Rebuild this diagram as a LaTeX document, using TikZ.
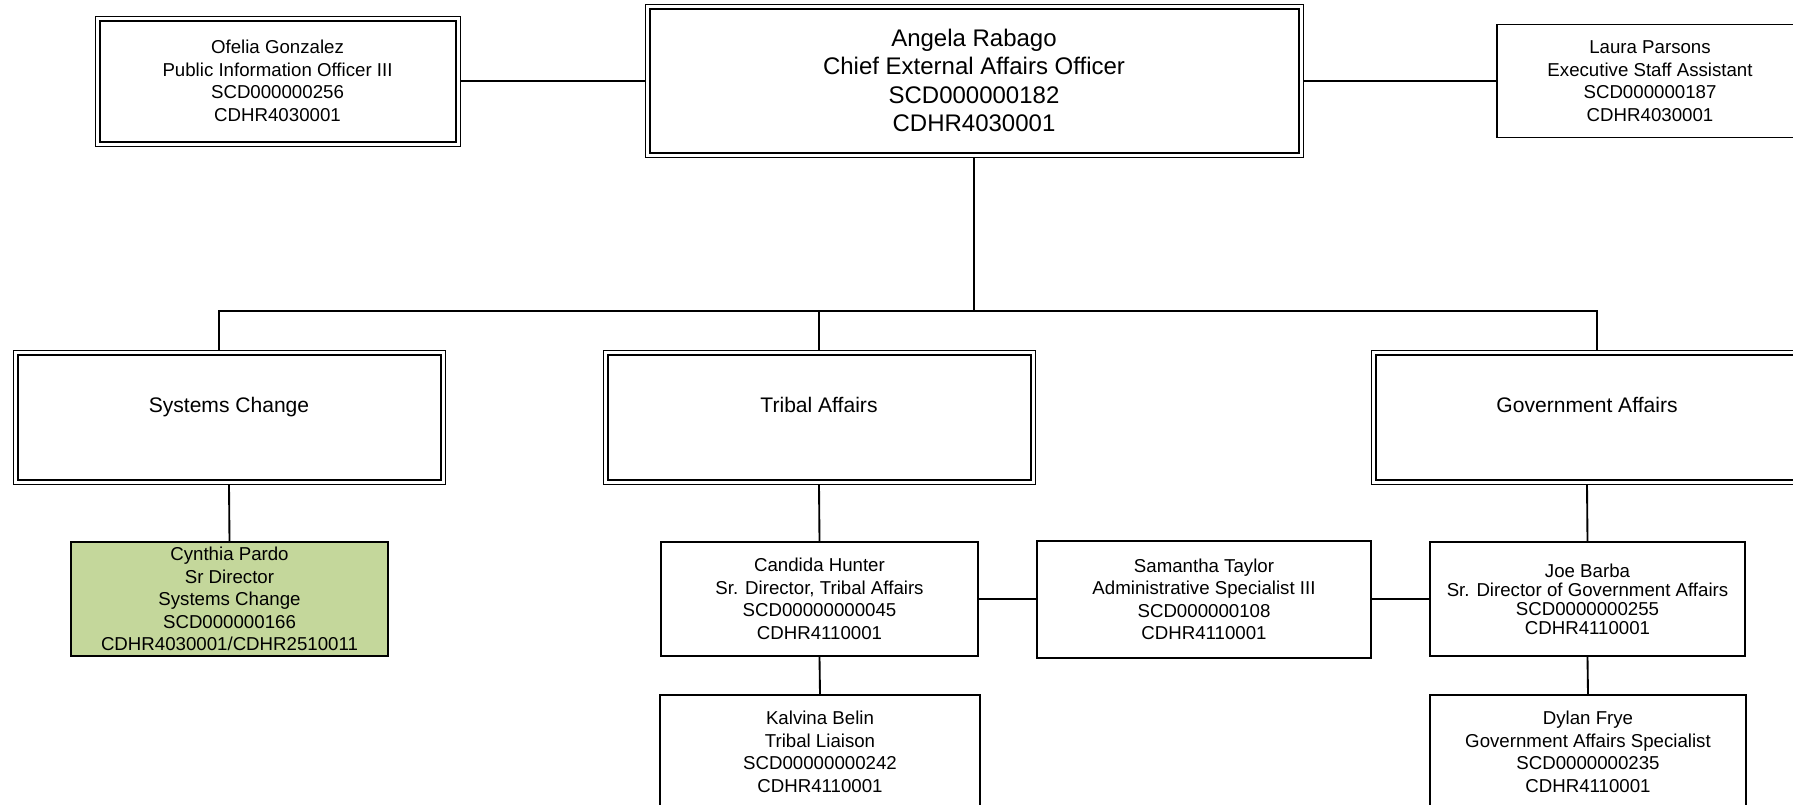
\documentclass[tikz,border=0pt]{standalone}
\usepackage{fontspec}
\setmainfont{Liberation Sans}
\definecolor{olivefill}{RGB}{196,215,155}
\tikzset{
  person/.style={draw, line width=1.4pt, align=center, inner sep=0pt,
    minimum width=237.75pt, minimum height=85.5pt, font=\fontsize{14}{16.9}\selectfont},
  dbox/.style={draw, line width=0.75pt, align=center, inner sep=0pt},
  dept/.style={dbox, minimum width=324pt, minimum height=100.5pt,
    text height=12pt, text depth=18.6pt, font=\fontsize{15.8}{19}\selectfont},
  frame/.style={line width=1.5pt},
  link/.style={line width=1.4pt}
}

\begin{document}
\begin{tikzpicture}[x=0.75pt, y=-0.75pt]
\useasboundingbox (0,0) rectangle (1793,804);

% top row
\node[dbox, minimum width=493.5pt, minimum height=114.75pt,
  font=\fontsize{18}{21.2}\selectfont] (angela) at (974,80.5)
  {Angela Rabago\\Chief External Affairs Officer\\SCD000000182\\CDHR4030001};
\node[dbox, minimum width=273.75pt, minimum height=97.5pt,
  font=\fontsize{14}{16.9}\selectfont] (ofelia) at (277.5,81)
  {Ofelia Gonzalez\\Public Information Officer III\\SCD000000256\\CDHR4030001};
\node[person, minimum width=229.5pt, minimum height=84.75pt] (laura) at (1650,81)
  {Laura Parsons\\Executive Staff Assistant\\SCD000000187\\CDHR4030001};

% units
\node[dept] (sc) at (229,417) {Systems Change};
\node[dept] (tribal) at (819,417) {Tribal Affairs};
\node[dept] (gov) at (1587,417) {Government Affairs};

\foreach \n in {angela,ofelia,sc,tribal,gov}
  \draw[frame] ([shift={(3.75pt,-3.75pt)}]\n.north west)
    rectangle ([shift={(-3.75pt,3.75pt)}]\n.south east);

% staff
\node[person, fill=olivefill] (cynthia) at (229.5,599)
  {Cynthia Pardo\\Sr Director\\Systems Change\\SCD000000166\\CDHR4030001/CDHR2510011};
\node[person] (candida) at (819.5,599)
  {Candida Hunter\\Sr. Director, Tribal Affairs\\SCD00000000045\\CDHR4110001};
\node[person, minimum width=250.5pt, minimum height=87.75pt] (samantha) at (1204,599.5)
  {Samantha Taylor\\Administrative Specialist III\\SCD000000108\\CDHR4110001};
\node[person, minimum width=236.25pt, font=\fontsize{14}{14.25}\selectfont] (joe) at (1587.5,599)
  {Joe Barba\\Sr. Director of Government Affairs\\SCD0000000255\\CDHR4110001};
\node[person, minimum width=240pt] (kalvina) at (820,752)
  {Kalvina Belin\\Tribal Liaison\\SCD00000000242\\CDHR4110001};
\node[person, minimum width=237pt] (dylan) at (1588,752)
  {Dylan Frye\\Government Affairs Specialist\\SCD0000000235\\CDHR4110001};

% connectors
\coordinate (bus) at (974,311);
\draw[link] (ofelia.east) -- (ofelia.east -| angela.west);
\draw[link] (laura.west -| angela.east) -- (laura.west);
\draw[link] (angela.south) -- (angela.south |- bus);
\draw[link] ([xshift=-7.5pt]sc.north) -- ([xshift=-7.5pt]sc.north |- bus)
  -- ([xshift=7.5pt]gov.north |- bus) -- ([xshift=7.5pt]gov.north);
\draw[link] (tribal.north) -- (tribal.north |- bus);
\draw[link] (sc.south) -- (cynthia.north);
\draw[link] (tribal.south) -- (candida.north);
\draw[link] (candida.south) -- (kalvina.north);
\draw[link] (gov.south) -- (joe.north);
\draw[link] (joe.south) -- (dylan.north);
\draw[link] (candida.east) -- (candida.east -| samantha.west);
\draw[link] (joe.west -| samantha.east) -- (joe.west);
\end{tikzpicture}
\end{document}
